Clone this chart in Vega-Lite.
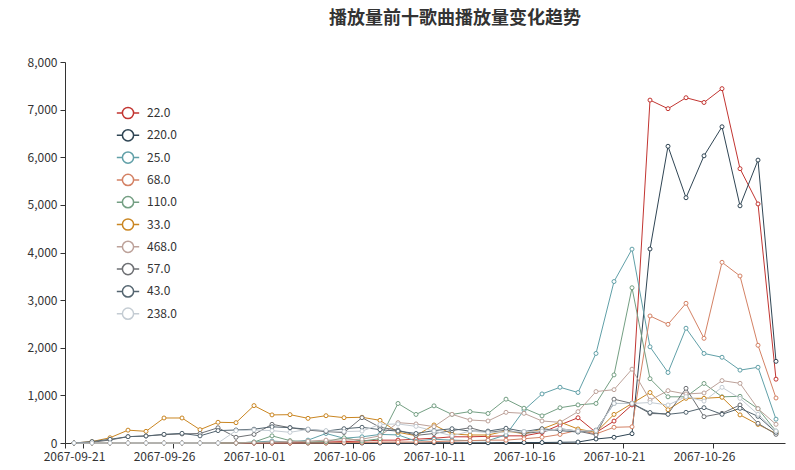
{
"$schema": "https://vega.github.io/schema/vega-lite/v6.json",
"width": 720, "height": 381,
"autosize": {"type": "none"},
"padding": {"left": 65, "top": 62, "right": 10, "bottom": 27},
"background": "white",
"config": {"view": {"stroke": null}, "font": "Noto Sans CJK SC"},
"title": {"text": "播放量前十歌曲播放量变化趋势", "fontSize": 18, "fontWeight": "bold", "color": "#333333", "anchor": "middle", "dx": 30, "offset": 28},
"data": {"values": [
{"date":"2067-09-21","song":"22.0","plays":0},{"date":"2067-09-22","song":"22.0","plays":0},{"date":"2067-09-23","song":"22.0","plays":0},{"date":"2067-09-24","song":"22.0","plays":0},{"date":"2067-09-25","song":"22.0","plays":0},{"date":"2067-09-26","song":"22.0","plays":0},{"date":"2067-09-27","song":"22.0","plays":0},{"date":"2067-09-28","song":"22.0","plays":0},{"date":"2067-09-29","song":"22.0","plays":0},{"date":"2067-09-30","song":"22.0","plays":0},
{"date":"2067-10-01","song":"22.0","plays":0},{"date":"2067-10-02","song":"22.0","plays":0},{"date":"2067-10-03","song":"22.0","plays":0},{"date":"2067-10-04","song":"22.0","plays":10},{"date":"2067-10-05","song":"22.0","plays":20},{"date":"2067-10-06","song":"22.0","plays":30},{"date":"2067-10-07","song":"22.0","plays":40},{"date":"2067-10-08","song":"22.0","plays":60},{"date":"2067-10-09","song":"22.0","plays":60},{"date":"2067-10-10","song":"22.0","plays":80},
{"date":"2067-10-11","song":"22.0","plays":100},{"date":"2067-10-12","song":"22.0","plays":130},{"date":"2067-10-13","song":"22.0","plays":130},{"date":"2067-10-14","song":"22.0","plays":140},{"date":"2067-10-15","song":"22.0","plays":150},{"date":"2067-10-16","song":"22.0","plays":150},{"date":"2067-10-17","song":"22.0","plays":220},{"date":"2067-10-18","song":"22.0","plays":380},{"date":"2067-10-19","song":"22.0","plays":530},{"date":"2067-10-20","song":"22.0","plays":220},
{"date":"2067-10-21","song":"22.0","plays":460},{"date":"2067-10-22","song":"22.0","plays":800},{"date":"2067-10-23","song":"22.0","plays":7200},{"date":"2067-10-24","song":"22.0","plays":7020},{"date":"2067-10-25","song":"22.0","plays":7250},{"date":"2067-10-26","song":"22.0","plays":7150},{"date":"2067-10-27","song":"22.0","plays":7440},{"date":"2067-10-28","song":"22.0","plays":5760},{"date":"2067-10-29","song":"22.0","plays":5020},{"date":"2067-10-30","song":"22.0","plays":1340},

{"date":"2067-09-21","song":"220.0","plays":0},{"date":"2067-09-22","song":"220.0","plays":0},{"date":"2067-09-23","song":"220.0","plays":0},{"date":"2067-09-24","song":"220.0","plays":0},{"date":"2067-09-25","song":"220.0","plays":0},{"date":"2067-09-26","song":"220.0","plays":0},{"date":"2067-09-27","song":"220.0","plays":0},{"date":"2067-09-28","song":"220.0","plays":0},{"date":"2067-09-29","song":"220.0","plays":0},{"date":"2067-09-30","song":"220.0","plays":0},
{"date":"2067-10-01","song":"220.0","plays":0},{"date":"2067-10-02","song":"220.0","plays":0},{"date":"2067-10-03","song":"220.0","plays":0},{"date":"2067-10-04","song":"220.0","plays":0},{"date":"2067-10-05","song":"220.0","plays":0},{"date":"2067-10-06","song":"220.0","plays":0},{"date":"2067-10-07","song":"220.0","plays":0},{"date":"2067-10-08","song":"220.0","plays":0},{"date":"2067-10-09","song":"220.0","plays":0},{"date":"2067-10-10","song":"220.0","plays":0},
{"date":"2067-10-11","song":"220.0","plays":5},{"date":"2067-10-12","song":"220.0","plays":5},{"date":"2067-10-13","song":"220.0","plays":5},{"date":"2067-10-14","song":"220.0","plays":5},{"date":"2067-10-15","song":"220.0","plays":10},{"date":"2067-10-16","song":"220.0","plays":10},{"date":"2067-10-17","song":"220.0","plays":10},{"date":"2067-10-18","song":"220.0","plays":15},{"date":"2067-10-19","song":"220.0","plays":20},{"date":"2067-10-20","song":"220.0","plays":84},
{"date":"2067-10-21","song":"220.0","plays":120},{"date":"2067-10-22","song":"220.0","plays":196},{"date":"2067-10-23","song":"220.0","plays":4074},{"date":"2067-10-24","song":"220.0","plays":6230},{"date":"2067-10-25","song":"220.0","plays":5150},{"date":"2067-10-26","song":"220.0","plays":6030},{"date":"2067-10-27","song":"220.0","plays":6640},{"date":"2067-10-28","song":"220.0","plays":4980},{"date":"2067-10-29","song":"220.0","plays":5940},{"date":"2067-10-30","song":"220.0","plays":1715},

{"date":"2067-09-21","song":"25.0","plays":0},{"date":"2067-09-22","song":"25.0","plays":0},{"date":"2067-09-23","song":"25.0","plays":0},{"date":"2067-09-24","song":"25.0","plays":0},{"date":"2067-09-25","song":"25.0","plays":0},{"date":"2067-09-26","song":"25.0","plays":0},{"date":"2067-09-27","song":"25.0","plays":0},{"date":"2067-09-28","song":"25.0","plays":0},{"date":"2067-09-29","song":"25.0","plays":0},{"date":"2067-09-30","song":"25.0","plays":0},
{"date":"2067-10-01","song":"25.0","plays":20},{"date":"2067-10-02","song":"25.0","plays":40},{"date":"2067-10-03","song":"25.0","plays":20},{"date":"2067-10-04","song":"25.0","plays":60},{"date":"2067-10-05","song":"25.0","plays":200},{"date":"2067-10-06","song":"25.0","plays":100},{"date":"2067-10-07","song":"25.0","plays":130},{"date":"2067-10-08","song":"25.0","plays":180},{"date":"2067-10-09","song":"25.0","plays":170},{"date":"2067-10-10","song":"25.0","plays":40},
{"date":"2067-10-11","song":"25.0","plays":80},{"date":"2067-10-12","song":"25.0","plays":60},{"date":"2067-10-13","song":"25.0","plays":50},{"date":"2067-10-14","song":"25.0","plays":50},{"date":"2067-10-15","song":"25.0","plays":170},{"date":"2067-10-16","song":"25.0","plays":690},{"date":"2067-10-17","song":"25.0","plays":1030},{"date":"2067-10-18","song":"25.0","plays":1170},{"date":"2067-10-19","song":"25.0","plays":1060},{"date":"2067-10-20","song":"25.0","plays":1880},
{"date":"2067-10-21","song":"25.0","plays":3390},{"date":"2067-10-22","song":"25.0","plays":4070},{"date":"2067-10-23","song":"25.0","plays":2020},{"date":"2067-10-24","song":"25.0","plays":1480},{"date":"2067-10-25","song":"25.0","plays":2410},{"date":"2067-10-26","song":"25.0","plays":1880},{"date":"2067-10-27","song":"25.0","plays":1800},{"date":"2067-10-28","song":"25.0","plays":1530},{"date":"2067-10-29","song":"25.0","plays":1590},{"date":"2067-10-30","song":"25.0","plays":500},

{"date":"2067-09-21","song":"68.0","plays":0},{"date":"2067-09-22","song":"68.0","plays":0},{"date":"2067-09-23","song":"68.0","plays":0},{"date":"2067-09-24","song":"68.0","plays":0},{"date":"2067-09-25","song":"68.0","plays":0},{"date":"2067-09-26","song":"68.0","plays":0},{"date":"2067-09-27","song":"68.0","plays":0},{"date":"2067-09-28","song":"68.0","plays":0},{"date":"2067-09-29","song":"68.0","plays":0},{"date":"2067-09-30","song":"68.0","plays":0},
{"date":"2067-10-01","song":"68.0","plays":0},{"date":"2067-10-02","song":"68.0","plays":0},{"date":"2067-10-03","song":"68.0","plays":0},{"date":"2067-10-04","song":"68.0","plays":0},{"date":"2067-10-05","song":"68.0","plays":0},{"date":"2067-10-06","song":"68.0","plays":10},{"date":"2067-10-07","song":"68.0","plays":10},{"date":"2067-10-08","song":"68.0","plays":20},{"date":"2067-10-09","song":"68.0","plays":20},{"date":"2067-10-10","song":"68.0","plays":20},
{"date":"2067-10-11","song":"68.0","plays":30},{"date":"2067-10-12","song":"68.0","plays":40},{"date":"2067-10-13","song":"68.0","plays":50},{"date":"2067-10-14","song":"68.0","plays":60},{"date":"2067-10-15","song":"68.0","plays":60},{"date":"2067-10-16","song":"68.0","plays":90},{"date":"2067-10-17","song":"68.0","plays":120},{"date":"2067-10-18","song":"68.0","plays":180},{"date":"2067-10-19","song":"68.0","plays":270},{"date":"2067-10-20","song":"68.0","plays":190},
{"date":"2067-10-21","song":"68.0","plays":330},{"date":"2067-10-22","song":"68.0","plays":340},{"date":"2067-10-23","song":"68.0","plays":2667},{"date":"2067-10-24","song":"68.0","plays":2492},{"date":"2067-10-25","song":"68.0","plays":2933},{"date":"2067-10-26","song":"68.0","plays":2198},{"date":"2067-10-27","song":"68.0","plays":3794},{"date":"2067-10-28","song":"68.0","plays":3507},{"date":"2067-10-29","song":"68.0","plays":2052},{"date":"2067-10-30","song":"68.0","plays":945},

{"date":"2067-09-21","song":"110.0","plays":0},{"date":"2067-09-22","song":"110.0","plays":0},{"date":"2067-09-23","song":"110.0","plays":0},{"date":"2067-09-24","song":"110.0","plays":0},{"date":"2067-09-25","song":"110.0","plays":0},{"date":"2067-09-26","song":"110.0","plays":0},{"date":"2067-09-27","song":"110.0","plays":0},{"date":"2067-09-28","song":"110.0","plays":0},{"date":"2067-09-29","song":"110.0","plays":0},{"date":"2067-09-30","song":"110.0","plays":0},
{"date":"2067-10-01","song":"110.0","plays":20},{"date":"2067-10-02","song":"110.0","plays":150},{"date":"2067-10-03","song":"110.0","plays":50},{"date":"2067-10-04","song":"110.0","plays":20},{"date":"2067-10-05","song":"110.0","plays":30},{"date":"2067-10-06","song":"110.0","plays":110},{"date":"2067-10-07","song":"110.0","plays":40},{"date":"2067-10-08","song":"110.0","plays":90},{"date":"2067-10-09","song":"110.0","plays":830},{"date":"2067-10-10","song":"110.0","plays":600},
{"date":"2067-10-11","song":"110.0","plays":780},{"date":"2067-10-12","song":"110.0","plays":600},{"date":"2067-10-13","song":"110.0","plays":660},{"date":"2067-10-14","song":"110.0","plays":620},{"date":"2067-10-15","song":"110.0","plays":920},{"date":"2067-10-16","song":"110.0","plays":730},{"date":"2067-10-17","song":"110.0","plays":570},{"date":"2067-10-18","song":"110.0","plays":740},{"date":"2067-10-19","song":"110.0","plays":800},{"date":"2067-10-20","song":"110.0","plays":830},
{"date":"2067-10-21","song":"110.0","plays":1430},{"date":"2067-10-22","song":"110.0","plays":3260},{"date":"2067-10-23","song":"110.0","plays":1350},{"date":"2067-10-24","song":"110.0","plays":970},{"date":"2067-10-25","song":"110.0","plays":970},{"date":"2067-10-26","song":"110.0","plays":1250},{"date":"2067-10-27","song":"110.0","plays":970},{"date":"2067-10-28","song":"110.0","plays":980},{"date":"2067-10-29","song":"110.0","plays":720},{"date":"2067-10-30","song":"110.0","plays":250},

{"date":"2067-09-21","song":"33.0","plays":0},{"date":"2067-09-22","song":"33.0","plays":30},{"date":"2067-09-23","song":"33.0","plays":110},{"date":"2067-09-24","song":"33.0","plays":270},{"date":"2067-09-25","song":"33.0","plays":245},{"date":"2067-09-26","song":"33.0","plays":525},{"date":"2067-09-27","song":"33.0","plays":525},{"date":"2067-09-28","song":"33.0","plays":280},{"date":"2067-09-29","song":"33.0","plays":435},{"date":"2067-09-30","song":"33.0","plays":427},
{"date":"2067-10-01","song":"33.0","plays":785},{"date":"2067-10-02","song":"33.0","plays":590},{"date":"2067-10-03","song":"33.0","plays":595},{"date":"2067-10-04","song":"33.0","plays":518},{"date":"2067-10-05","song":"33.0","plays":573},{"date":"2067-10-06","song":"33.0","plays":532},{"date":"2067-10-07","song":"33.0","plays":540},{"date":"2067-10-08","song":"33.0","plays":476},{"date":"2067-10-09","song":"33.0","plays":224},{"date":"2067-10-10","song":"33.0","plays":154},
{"date":"2067-10-11","song":"33.0","plays":378},{"date":"2067-10-12","song":"33.0","plays":189},{"date":"2067-10-13","song":"33.0","plays":168},{"date":"2067-10-14","song":"33.0","plays":168},{"date":"2067-10-15","song":"33.0","plays":252},{"date":"2067-10-16","song":"33.0","plays":195},{"date":"2067-10-17","song":"33.0","plays":294},{"date":"2067-10-18","song":"33.0","plays":440},{"date":"2067-10-19","song":"33.0","plays":294},{"date":"2067-10-20","song":"33.0","plays":224},
{"date":"2067-10-21","song":"33.0","plays":600},{"date":"2067-10-22","song":"33.0","plays":830},{"date":"2067-10-23","song":"33.0","plays":1060},{"date":"2067-10-24","song":"33.0","plays":700},{"date":"2067-10-25","song":"33.0","plays":938},{"date":"2067-10-26","song":"33.0","plays":938},{"date":"2067-10-27","song":"33.0","plays":960},{"date":"2067-10-28","song":"33.0","plays":590},{"date":"2067-10-29","song":"33.0","plays":390},{"date":"2067-10-30","song":"33.0","plays":200},

{"date":"2067-09-21","song":"468.0","plays":0},{"date":"2067-09-22","song":"468.0","plays":0},{"date":"2067-09-23","song":"468.0","plays":0},{"date":"2067-09-24","song":"468.0","plays":0},{"date":"2067-09-25","song":"468.0","plays":0},{"date":"2067-09-26","song":"468.0","plays":0},{"date":"2067-09-27","song":"468.0","plays":0},{"date":"2067-09-28","song":"468.0","plays":0},{"date":"2067-09-29","song":"468.0","plays":0},{"date":"2067-09-30","song":"468.0","plays":0},
{"date":"2067-10-01","song":"468.0","plays":10},{"date":"2067-10-02","song":"468.0","plays":20},{"date":"2067-10-03","song":"468.0","plays":30},{"date":"2067-10-04","song":"468.0","plays":40},{"date":"2067-10-05","song":"468.0","plays":60},{"date":"2067-10-06","song":"468.0","plays":60},{"date":"2067-10-07","song":"468.0","plays":80},{"date":"2067-10-08","song":"468.0","plays":150},{"date":"2067-10-09","song":"468.0","plays":427},{"date":"2067-10-10","song":"468.0","plays":400},
{"date":"2067-10-11","song":"468.0","plays":343},{"date":"2067-10-12","song":"468.0","plays":602},{"date":"2067-10-13","song":"468.0","plays":483},{"date":"2067-10-14","song":"468.0","plays":462},{"date":"2067-10-15","song":"468.0","plays":644},{"date":"2067-10-16","song":"468.0","plays":623},{"date":"2067-10-17","song":"468.0","plays":462},{"date":"2067-10-18","song":"468.0","plays":434},{"date":"2067-10-19","song":"468.0","plays":658},{"date":"2067-10-20","song":"468.0","plays":1080},
{"date":"2067-10-21","song":"468.0","plays":1120},{"date":"2067-10-22","song":"468.0","plays":1550},{"date":"2067-10-23","song":"468.0","plays":900},{"date":"2067-10-24","song":"468.0","plays":1099},{"date":"2067-10-25","song":"468.0","plays":1029},{"date":"2067-10-26","song":"468.0","plays":1050},{"date":"2067-10-27","song":"468.0","plays":1310},{"date":"2067-10-28","song":"468.0","plays":1253},{"date":"2067-10-29","song":"468.0","plays":720},{"date":"2067-10-30","song":"468.0","plays":392},

{"date":"2067-09-21","song":"57.0","plays":0},{"date":"2067-09-22","song":"57.0","plays":15},{"date":"2067-09-23","song":"57.0","plays":63},{"date":"2067-09-24","song":"57.0","plays":133},{"date":"2067-09-25","song":"57.0","plays":147},{"date":"2067-09-26","song":"57.0","plays":175},{"date":"2067-09-27","song":"57.0","plays":190},{"date":"2067-09-28","song":"57.0","plays":200},{"date":"2067-09-29","song":"57.0","plays":320},{"date":"2067-09-30","song":"57.0","plays":120},
{"date":"2067-10-01","song":"57.0","plays":180},{"date":"2067-10-02","song":"57.0","plays":392},{"date":"2067-10-03","song":"57.0","plays":322},{"date":"2067-10-04","song":"57.0","plays":270},{"date":"2067-10-05","song":"57.0","plays":240},{"date":"2067-10-06","song":"57.0","plays":220},{"date":"2067-10-07","song":"57.0","plays":532},{"date":"2067-10-08","song":"57.0","plays":330},{"date":"2067-10-09","song":"57.0","plays":270},{"date":"2067-10-10","song":"57.0","plays":160},
{"date":"2067-10-11","song":"57.0","plays":200},{"date":"2067-10-12","song":"57.0","plays":260},{"date":"2067-10-13","song":"57.0","plays":320},{"date":"2067-10-14","song":"57.0","plays":220},{"date":"2067-10-15","song":"57.0","plays":270},{"date":"2067-10-16","song":"57.0","plays":200},{"date":"2067-10-17","song":"57.0","plays":240},{"date":"2067-10-18","song":"57.0","plays":300},{"date":"2067-10-19","song":"57.0","plays":250},{"date":"2067-10-20","song":"57.0","plays":170},
{"date":"2067-10-21","song":"57.0","plays":920},{"date":"2067-10-22","song":"57.0","plays":830},{"date":"2067-10-23","song":"57.0","plays":620},{"date":"2067-10-24","song":"57.0","plays":609},{"date":"2067-10-25","song":"57.0","plays":1148},{"date":"2067-10-26","song":"57.0","plays":553},{"date":"2067-10-27","song":"57.0","plays":623},{"date":"2067-10-28","song":"57.0","plays":798},{"date":"2067-10-29","song":"57.0","plays":413},{"date":"2067-10-30","song":"57.0","plays":182},

{"date":"2067-09-21","song":"43.0","plays":0},{"date":"2067-09-22","song":"43.0","plays":30},{"date":"2067-09-23","song":"43.0","plays":78},{"date":"2067-09-24","song":"43.0","plays":133},{"date":"2067-09-25","song":"43.0","plays":147},{"date":"2067-09-26","song":"43.0","plays":182},{"date":"2067-09-27","song":"43.0","plays":203},{"date":"2067-09-28","song":"43.0","plays":150},{"date":"2067-09-29","song":"43.0","plays":260},{"date":"2067-09-30","song":"43.0","plays":273},
{"date":"2067-10-01","song":"43.0","plays":290},{"date":"2067-10-02","song":"43.0","plays":340},{"date":"2067-10-03","song":"43.0","plays":322},{"date":"2067-10-04","song":"43.0","plays":290},{"date":"2067-10-05","song":"43.0","plays":250},{"date":"2067-10-06","song":"43.0","plays":300},{"date":"2067-10-07","song":"43.0","plays":330},{"date":"2067-10-08","song":"43.0","plays":280},{"date":"2067-10-09","song":"43.0","plays":250},{"date":"2067-10-10","song":"43.0","plays":200},
{"date":"2067-10-11","song":"43.0","plays":260},{"date":"2067-10-12","song":"43.0","plays":300},{"date":"2067-10-13","song":"43.0","plays":250},{"date":"2067-10-14","song":"43.0","plays":250},{"date":"2067-10-15","song":"43.0","plays":310},{"date":"2067-10-16","song":"43.0","plays":240},{"date":"2067-10-17","song":"43.0","plays":300},{"date":"2067-10-18","song":"43.0","plays":260},{"date":"2067-10-19","song":"43.0","plays":230},{"date":"2067-10-20","song":"43.0","plays":270},
{"date":"2067-10-21","song":"43.0","plays":830},{"date":"2067-10-22","song":"43.0","plays":830},{"date":"2067-10-23","song":"43.0","plays":640},{"date":"2067-10-24","song":"43.0","plays":602},{"date":"2067-10-25","song":"43.0","plays":644},{"date":"2067-10-26","song":"43.0","plays":742},{"date":"2067-10-27","song":"43.0","plays":602},{"date":"2067-10-28","song":"43.0","plays":728},{"date":"2067-10-29","song":"43.0","plays":560},{"date":"2067-10-30","song":"43.0","plays":224},

{"date":"2067-09-21","song":"238.0","plays":0},{"date":"2067-09-22","song":"238.0","plays":0},{"date":"2067-09-23","song":"238.0","plays":0},{"date":"2067-09-24","song":"238.0","plays":0},{"date":"2067-09-25","song":"238.0","plays":0},{"date":"2067-09-26","song":"238.0","plays":0},{"date":"2067-09-27","song":"238.0","plays":0},{"date":"2067-09-28","song":"238.0","plays":0},{"date":"2067-09-29","song":"238.0","plays":0},{"date":"2067-09-30","song":"238.0","plays":259},
{"date":"2067-10-01","song":"238.0","plays":273},{"date":"2067-10-02","song":"238.0","plays":260},{"date":"2067-10-03","song":"238.0","plays":224},{"date":"2067-10-04","song":"238.0","plays":287},{"date":"2067-10-05","song":"238.0","plays":260},{"date":"2067-10-06","song":"238.0","plays":240},{"date":"2067-10-07","song":"238.0","plays":250},{"date":"2067-10-08","song":"238.0","plays":390},{"date":"2067-10-09","song":"238.0","plays":400},{"date":"2067-10-10","song":"238.0","plays":350},
{"date":"2067-10-11","song":"238.0","plays":250},{"date":"2067-10-12","song":"238.0","plays":150},{"date":"2067-10-13","song":"238.0","plays":250},{"date":"2067-10-14","song":"238.0","plays":220},{"date":"2067-10-15","song":"238.0","plays":230},{"date":"2067-10-16","song":"238.0","plays":240},{"date":"2067-10-17","song":"238.0","plays":250},{"date":"2067-10-18","song":"238.0","plays":300},{"date":"2067-10-19","song":"238.0","plays":250},{"date":"2067-10-20","song":"238.0","plays":260},
{"date":"2067-10-21","song":"238.0","plays":830},{"date":"2067-10-22","song":"238.0","plays":830},{"date":"2067-10-23","song":"238.0","plays":850},{"date":"2067-10-24","song":"238.0","plays":798},{"date":"2067-10-25","song":"238.0","plays":973},{"date":"2067-10-26","song":"238.0","plays":880},{"date":"2067-10-27","song":"238.0","plays":1169},{"date":"2067-10-28","song":"238.0","plays":938},{"date":"2067-10-29","song":"238.0","plays":602},{"date":"2067-10-30","song":"238.0","plays":252}
]},
"encoding": {
  "x": {"field": "date", "type": "ordinal", "sort": "ascending",
        "scale": {"type": "band", "paddingInner": 0, "paddingOuter": 0},
        "axis": {"title": null, "values": ["2067-09-21","2067-09-26","2067-10-01","2067-10-06","2067-10-11","2067-10-16","2067-10-21","2067-10-26"],
                 "labelAngle": 0, "tickBand": "extent", "domainColor": "#333333", "tickColor": "#333333", "labelColor": "#333333",
                 "labelFontSize": 12, "labelPadding": 3, "tickSize": 5, "grid": false, "labelFont": "Noto Sans CJK SC"}},
  "y": {"field": "plays", "type": "quantitative", "scale": {"domain": [0, 8000], "nice": false},
        "axis": {"title": null, "values": [0,1000,2000,3000,4000,5000,6000,7000,8000], "format": ",d",
                 "domainColor": "#333333", "tickColor": "#333333", "labelColor": "#333333", "labelFontSize": 12,
                 "tickSize": 5, "labelPadding": 3, "grid": false, "labelFont": "Noto Sans CJK SC"}},
  "color": {"field": "song", "type": "nominal",
            "scale": {"domain": ["22.0","220.0","25.0","68.0","110.0","33.0","468.0","57.0","43.0","238.0"],
                      "range": ["#c23531","#2f4554","#61a0a8","#d48265","#749f83","#ca8622","#bda29a","#6e7074","#546570","#c4ccd3"]},
            "legend": {"title": null, "orient": "none", "legendX": 51, "legendY": 39, "padding": 0, "rowPadding": 1.3,
                       "symbolType": "M-1,0L-0.5,0M0.5,0L1,0M0.5,0A0.5,0.5,0,1,1,-0.5,0A0.5,0.5,0,1,1,0.5,0",
                       "symbolSize": 500, "symbolStrokeWidth": 1.5, "symbolFillColor": "white", "labelFontSize": 12,
                       "labelColor": "#333333", "labelOffset": 7, "labelFont": "Noto Sans CJK SC",
                       "encode": {"symbols": {"update": {"fill": {"value": "white"}, "strokeWidth": {"value": 1.5}, "opacity": {"value": 1}}}}}}
},
"layer": [
  {"mark": {"type": "line", "strokeWidth": 1}},
  {"mark": {"type": "point", "shape": "circle", "filled": false, "fill": "white", "fillOpacity": 1, "opacity": 1, "size": 16, "strokeWidth": 1}}
]
}
